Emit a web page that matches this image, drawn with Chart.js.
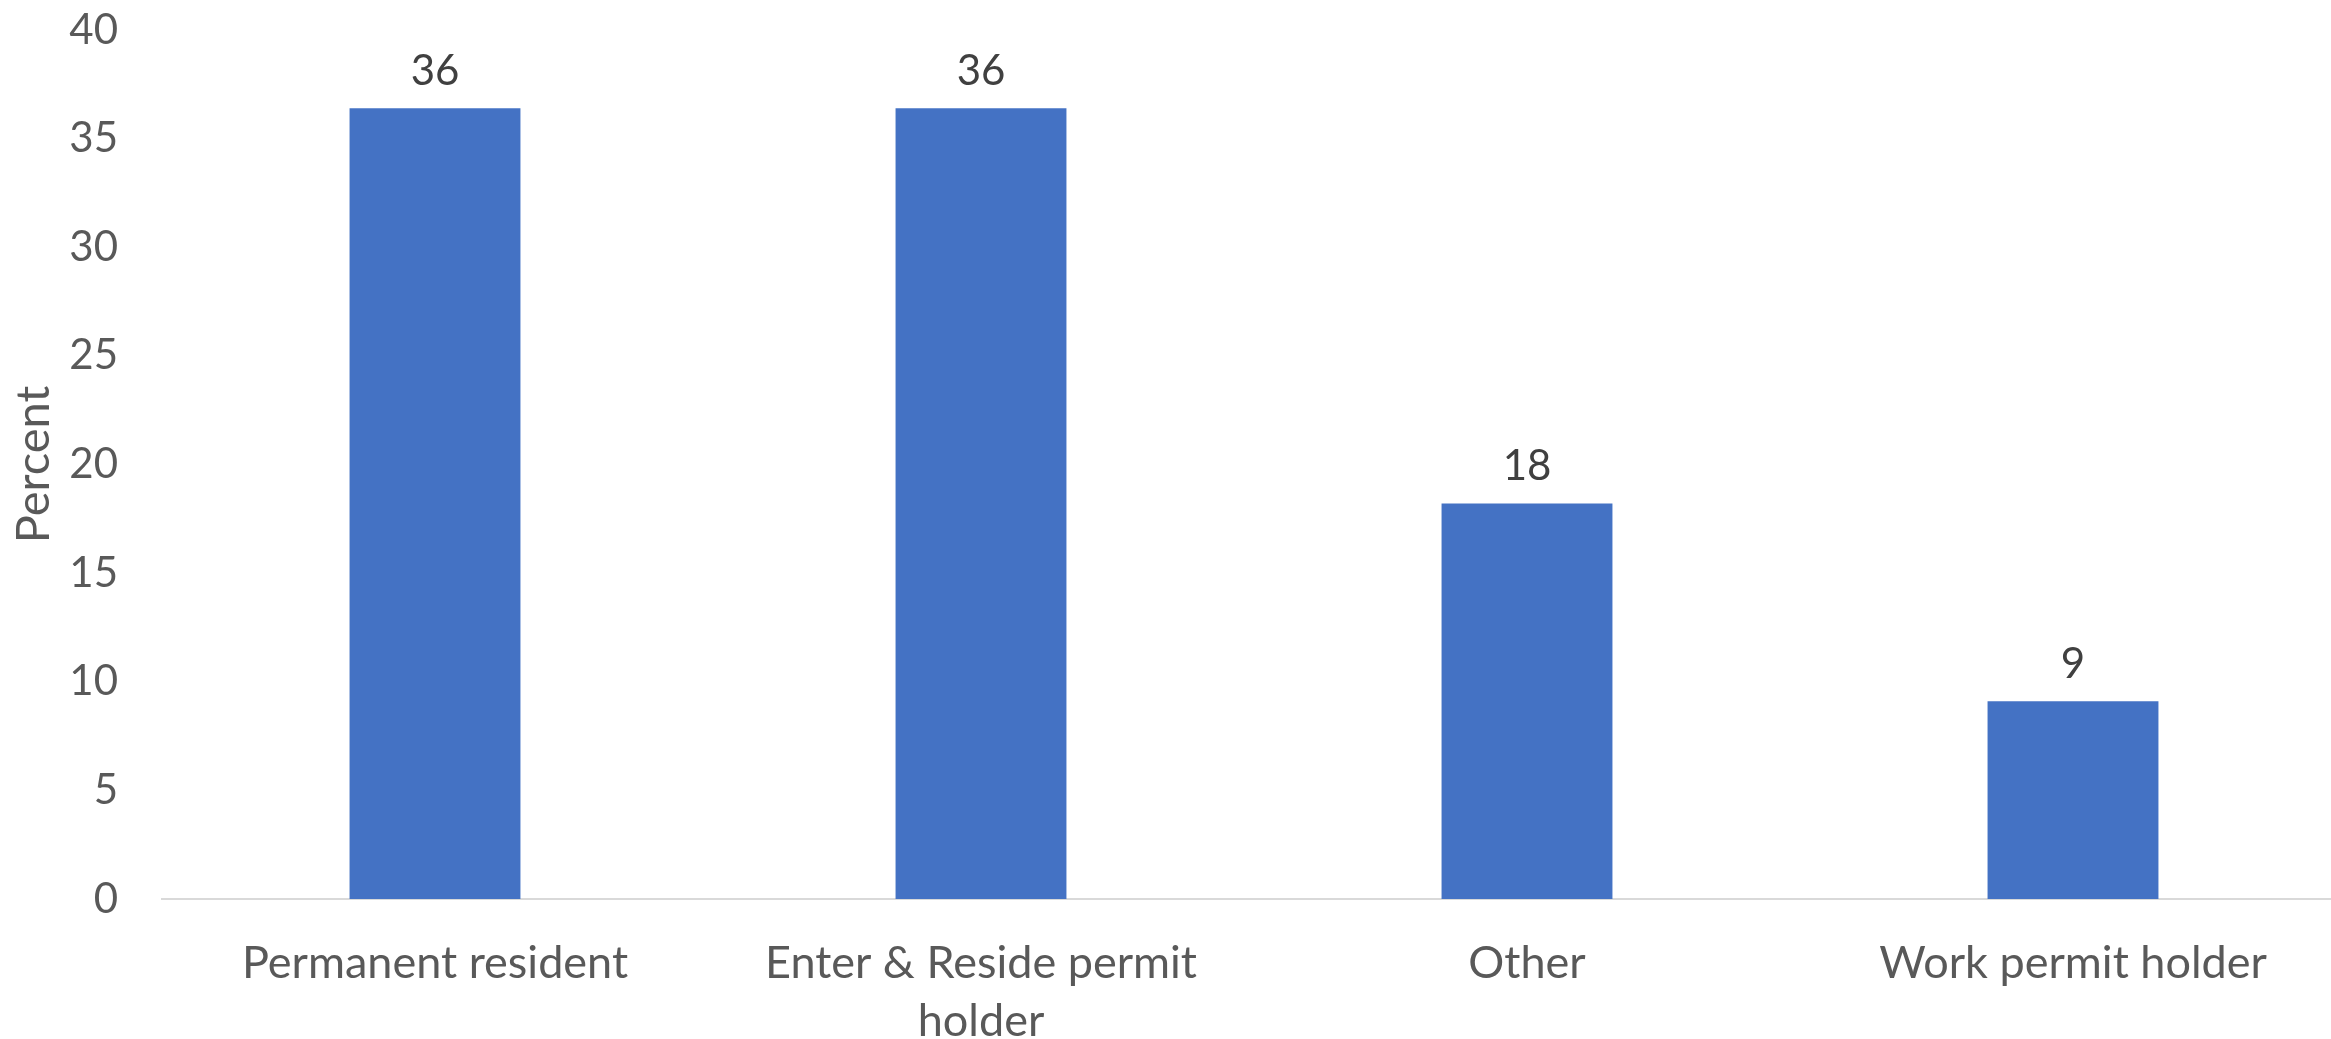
<!DOCTYPE html>
<html>
<head>
<meta charset="utf-8">
<script src="https://cdn.jsdelivr.net/npm/chart.js@4.4.0/dist/chart.umd.min.js"></script>
<style>
  html, body { margin: 0; padding: 0; background: #fff; overflow: hidden; }
  /* the original plot runs a little past the right edge of the picture */
  #wrap { width: 2346px; height: 1039px; }
</style>
</head>
<body>
<div id="wrap"><canvas id="chart"></canvas></div>
<script>
const categories = ['Permanent resident', ['Enter & Reside permit', 'holder'], 'Other', 'Work permit holder'];
const percentValues = [36.4, 36.4, 18.2, 9.1];
const yTicks = [0, 5, 10, 15, 20, 25, 30, 35, 40];

const barColor = '#4472C4';
const fontFamily = 'Lato, "Open Sans", sans-serif';

// simple value labels above each bar
const barValueLabels = {
    id: 'barValueLabels',
    afterDatasetsDraw(chart) {
        const ctx = chart.ctx;
        const meta = chart.getDatasetMeta(0);
        ctx.save();
        ctx.font = '42px ' + fontFamily;
        ctx.fillStyle = '#404040';
        ctx.textAlign = 'center';
        ctx.textBaseline = 'bottom';
        meta.data.forEach((bar, i) => {
            const value = chart.data.datasets[0].data[i];
            ctx.fillText(Math.round(value), bar.x, bar.y - 16);
        });
        ctx.restore();
    }
};

new Chart(document.getElementById('chart'), {
    type: 'bar',
    data: {
        labels: categories,
        datasets: [{
            label: 'Percent',
            data: percentValues,
            backgroundColor: barColor,
            categoryPercentage: 1,
            barPercentage: 0.313,
        }]
    },
    options: {
        responsive: true,
        maintainAspectRatio: false,
        animation: false,
        layout: { padding: { top: 30, right: 0, bottom: 0, left: 0 } },
        plugins: {
            legend: { display: false },
            tooltip: { enabled: false },
        },
        scales: {
            x: {
                grid: { display: false, drawTicks: false },
                border: { display: true, color: '#D9D9D9', width: 2 },
                ticks: {
                    color: '#595959',
                    font: { family: fontFamily, size: 45, lineHeight: 1.29 },
                    padding: 35,
                    autoSkip: false,
                    maxRotation: 0,
                },
                afterFit(scale) { scale.height = 140; }
            },
            y: {
                min: 0,
                max: 40,
                grid: { display: false, drawTicks: false },
                border: { display: false },
                afterBuildTicks(scale) { scale.ticks = yTicks.map(v => ({ value: v })); },
                ticks: {
                    color: '#595959',
                    font: { family: fontFamily, size: 42 },
                    padding: 44,
                },
                title: {
                    display: true,
                    text: 'Percent',
                    color: '#595959',
                    font: { family: fontFamily, size: 47 },
                    padding: { top: 6, bottom: 0 },
                },
                afterFit(scale) {
                    scale.width = 162;
                    scale.paddingTop = 0;
                    scale.paddingBottom = 0;
                }
            }
        }
    },
    plugins: [barValueLabels]
});
</script>
</body>
</html>
